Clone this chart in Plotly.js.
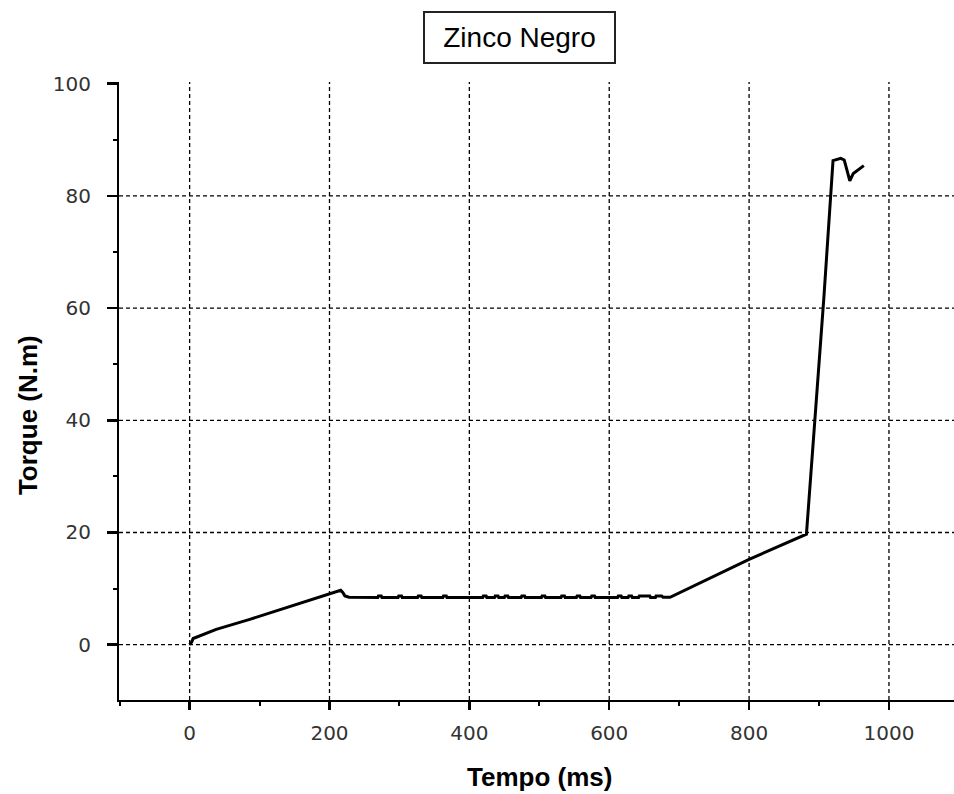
<!DOCTYPE html>
<html>
<head>
<meta charset="utf-8">
<script src="https://cdn.plot.ly/plotly-3.0.1.min.js"></script>
<style>html,body{margin:0;padding:0;background:#fff;}#chart{width:954px;height:794px;}</style>
</head>
<body>
<div id="chart"></div>
<script>
// Data
const tempo = [0, 3, 5, 14, 38, 86, 157, 200, 205, 212, 216, 219, 222, 228,
  250, 269, 270, 274, 275, 298, 299, 303, 304, 326, 327, 331, 332, 362, 363, 367, 368,
  419, 420, 424, 425, 436, 437, 441, 442, 450, 451, 455, 456, 474, 475, 479, 480,
  503, 504, 508, 509, 531, 532, 536, 537, 553, 554, 558, 559, 574, 575, 579, 580,
  612, 613, 617, 618, 627, 628, 632, 633, 642, 643, 658, 659, 666, 667, 675, 677, 687,
  800, 882, 894, 907, 920, 931, 936, 944, 949, 956, 964];
const torque = [0, 0.5, 1.1, 1.55, 2.74, 4.52, 7.37, 9.16, 9.3, 9.6, 9.7, 9.3, 8.7, 8.45,
  8.4, 8.4, 8.7, 8.7, 8.4, 8.4, 8.7, 8.7, 8.4, 8.4, 8.7, 8.7, 8.4, 8.4, 8.7, 8.7, 8.4,
  8.4, 8.7, 8.7, 8.4, 8.4, 8.7, 8.7, 8.4, 8.4, 8.7, 8.7, 8.4, 8.4, 8.7, 8.7, 8.4,
  8.4, 8.7, 8.7, 8.4, 8.4, 8.7, 8.7, 8.4, 8.4, 8.7, 8.7, 8.4, 8.4, 8.7, 8.7, 8.4,
  8.4, 8.7, 8.7, 8.4, 8.4, 8.7, 8.7, 8.4, 8.4, 8.7, 8.7, 8.4, 8.4, 8.7, 8.7, 8.45, 8.45,
  15.2, 19.7, 40, 62, 86.3, 86.7, 86.4, 82.7, 84.0, 84.7, 85.4];

const xMajorTicks = [0, 200, 400, 600, 800, 1000];
const yMajorTicks = [0, 20, 40, 60, 80, 100];
const xGrid = [0, 200, 400, 600, 800, 1000];
const yGrid = [0, 20, 40, 60, 80];

const chartTitle = 'Zinco Negro';
const xTitle = 'Tempo (ms)';
const yTitle = 'Torque (N.m)';

const gridStyle = {color: '#000', width: 1.3, dash: '4px,3px'};
const shapes = [];
xGrid.forEach(v => shapes.push({type: 'line', xref: 'x', yref: 'paper', x0: v, x1: v, y0: 0, y1: 1, line: gridStyle, layer: 'below'}));
yGrid.forEach(v => shapes.push({type: 'line', xref: 'paper', yref: 'y', x0: 0, x1: 1, y0: v, y1: v, line: gridStyle, layer: 'below'}));

const tickFont = {family: 'DejaVu Sans, Liberation Sans, Arial, sans-serif', size: 20, color: '#333'};

const layout = {
  width: 954, height: 794,
  margin: {l: 119, r: 0, t: 82, b: 94, pad: 0},
  paper_bgcolor: '#fff', plot_bgcolor: '#fff',
  showlegend: false,
  xaxis: {
    range: [-101, 1093], showgrid: false, zeroline: false,
    showline: true, linecolor: '#000', linewidth: 2,
    ticks: 'outside', ticklen: 8, tickwidth: 2.5, tickcolor: '#000',
    tickvals: xMajorTicks, ticktext: xMajorTicks.map(String),
    tickfont: tickFont, ticklabelstandoff: 6,
    minor: {dtick: 100, tick0: 100, ticks: 'outside', ticklen: 4, tickwidth: 2, tickcolor: '#000', showgrid: false}
  },
  yaxis: {
    range: [-9.86, 100.3], showgrid: false, zeroline: false,
    showline: true, linecolor: '#000', linewidth: 2,
    ticks: 'outside', ticklen: 10, tickwidth: 2.5, tickcolor: '#000',
    tickvals: yMajorTicks, ticktext: yMajorTicks.map(String),
    tickfont: tickFont, ticklabelstandoff: 12,
    minor: {dtick: 10, tick0: 10, ticks: 'outside', ticklen: 4, tickwidth: 2, tickcolor: '#000', showgrid: false}
  },
  shapes: shapes,
  annotations: [
    {text: chartTitle, xref: 'paper', yref: 'paper', x: 0.4796, y: 1.072, xanchor: 'center', yanchor: 'middle',
     showarrow: false, font: {family: 'Liberation Sans, Arial, sans-serif', size: 28, color: '#000'},
     bordercolor: '#222', borderwidth: 2, borderpad: 0, width: 189, height: 49, bgcolor: '#fff'},
    {text: '<b>' + xTitle + '</b>', xref: 'paper', yref: 'paper', x: 0.503, y: -0.1246, xanchor: 'center', yanchor: 'middle',
     showarrow: false, font: {family: 'Liberation Sans, Arial, sans-serif', size: 26, color: '#000'}},
    {text: '<b>' + yTitle + '</b>', xref: 'paper', yref: 'paper', x: -0.109, y: 0.461, xanchor: 'center', yanchor: 'middle',
     textangle: -90, showarrow: false, font: {family: 'Liberation Sans, Arial, sans-serif', size: 26, color: '#000'}}
  ]
};

const trace = {x: tempo, y: torque, type: 'scatter', mode: 'lines', line: {color: '#000', width: 3}, hoverinfo: 'skip'};

Plotly.newPlot('chart', [trace], layout, {staticPlot: true, displayModeBar: false});
</script>
</body>
</html>
